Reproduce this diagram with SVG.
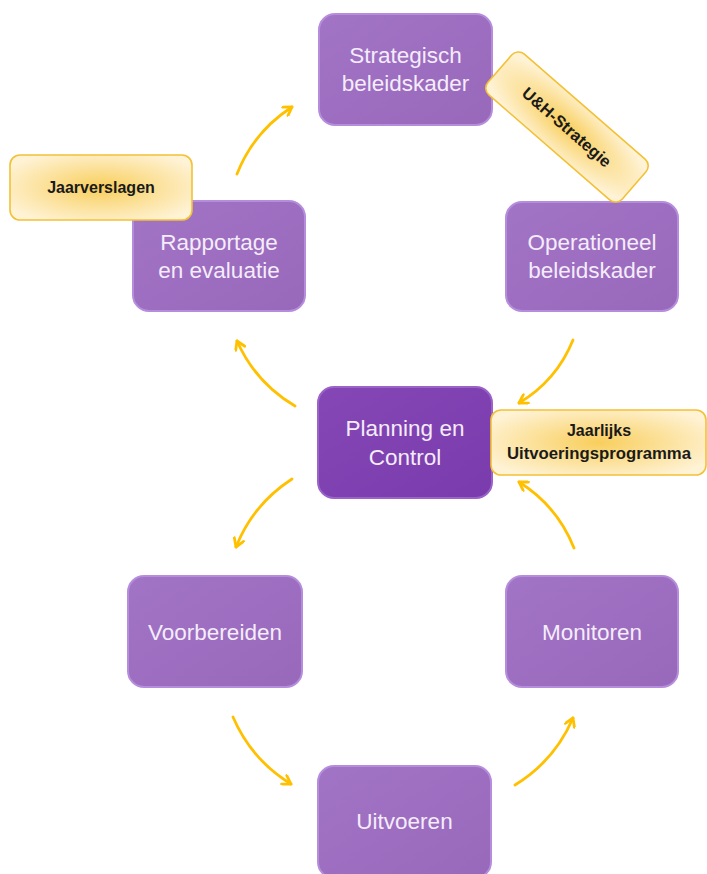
<svg xmlns="http://www.w3.org/2000/svg" width="707" height="874" viewBox="0 0 707 874">
<defs>
  <radialGradient id="lbl" cx="50%" cy="50%" r="60%">
    <stop offset="0" stop-color="#F8CE5C"/>
    <stop offset="1" stop-color="#FFF3D6"/>
  </radialGradient>
  <linearGradient id="nodeG" x1="0" y1="0" x2="1" y2="1">
    <stop offset="0" stop-color="#A274C6"/>
    <stop offset="1" stop-color="#9868BB"/>
  </linearGradient>
  <linearGradient id="pcG" x1="0" y1="0" x2="1" y2="1">
    <stop offset="0" stop-color="#8547B6"/>
    <stop offset="1" stop-color="#7A3CAC"/>
  </linearGradient>
  <marker id="ah" viewBox="0 0 12 12" refX="10" refY="6" markerWidth="12" markerHeight="12" markerUnits="userSpaceOnUse" orient="auto">
    <path d="M2,1 L10,6 L2,11" fill="none" stroke="#FFC000" stroke-width="2.8" stroke-linecap="round" stroke-linejoin="round"/>
  </marker>
</defs>
<style>
  .node { fill: url(#nodeG); stroke: #B68DDD; stroke-width: 2; }
  .pc { fill: url(#pcG); stroke: #9A63C8; stroke-width: 2; }
  .nt { font-family: "Liberation Sans", Arial, sans-serif; font-size: 22.5px; fill: #F4ECFA; text-anchor: middle; }
  .lb { fill: url(#lbl); stroke: #F3C136; stroke-width: 1.6; }
  .lt { font-family: "Liberation Sans", Arial, sans-serif; font-weight: bold; font-size: 16px; fill: #1A1A1A; text-anchor: middle; }
  .arr { fill: none; stroke: #FFC000; stroke-width: 2.8; stroke-linecap: round; marker-end: url(#ah); }
</style>
<g id="connectors">
  <path class="arr" d="M237,174 Q253.7,131.6 292,107"/>
  <path class="arr" d="M573,340 Q556.6,380.6 519,403"/>
  <path class="arr" d="M574,548 Q557.3,506 519,482"/>
  <path class="arr" d="M295,406 Q255.6,382.8 237,341"/>
  <path class="arr" d="M292,479 Q253.2,504.1 236,547"/>
  <path class="arr" d="M233,717 Q251.4,759.7 291,784"/>
  <path class="arr" d="M515,785 Q554.6,760.7 573,718"/>
</g>
<g id="strategisch">
  <rect class="node" x="319" y="14" width="173" height="111" rx="16"/>
  <text class="nt" x="405.5" y="63">Strategisch</text>
  <text class="nt" x="405.5" y="91">beleidskader</text>
</g>
<g id="operationeel">
  <rect class="node" x="506" y="202" width="172" height="109" rx="16"/>
  <text class="nt" x="592" y="250">Operationeel</text>
  <text class="nt" x="592" y="278">beleidskader</text>
</g>
<g id="rapportage">
  <rect class="node" x="133" y="201" width="172" height="110" rx="16"/>
  <text class="nt" x="219" y="250">Rapportage</text>
  <text class="nt" x="219" y="278">en evaluatie</text>
</g>
<g id="planning">
  <rect class="pc" x="318" y="387" width="174" height="111" rx="16"/>
  <text class="nt" x="405" y="436">Planning en</text>
  <text class="nt" x="405" y="465">Control</text>
</g>
<g id="voorbereiden">
  <rect class="node" x="128" y="576" width="174" height="111" rx="16"/>
  <text class="nt" x="215" y="640">Voorbereiden</text>
</g>
<g id="monitoren">
  <rect class="node" x="506" y="576" width="172" height="111" rx="16"/>
  <text class="nt" x="592" y="640">Monitoren</text>
</g>
<g id="uitvoeren">
  <rect class="node" x="318" y="766" width="173" height="112" rx="16"/>
  <text class="nt" x="404.5" y="829">Uitvoeren</text>
</g>
<g id="jaarverslagen">
  <rect class="lb" x="10" y="155" width="182" height="65" rx="10"/>
  <text class="lt" x="101" y="193">Jaarverslagen</text>
</g>
<g id="uh-strategie" transform="translate(567,127) rotate(41)">
  <rect class="lb" x="-89" y="-27" width="178" height="54" rx="9"/>
  <text class="lt" x="0" y="6" style="font-size:16.5px">U&amp;H-Strategie</text>
</g>
<g id="jaarlijks">
  <rect class="lb" x="491" y="410" width="215" height="65" rx="10"/>
  <text class="lt" x="599" y="436">Jaarlijks</text>
  <text class="lt" x="599" y="459" textLength="184" lengthAdjust="spacingAndGlyphs">Uitvoeringsprogramma</text>
</g>
</svg>
